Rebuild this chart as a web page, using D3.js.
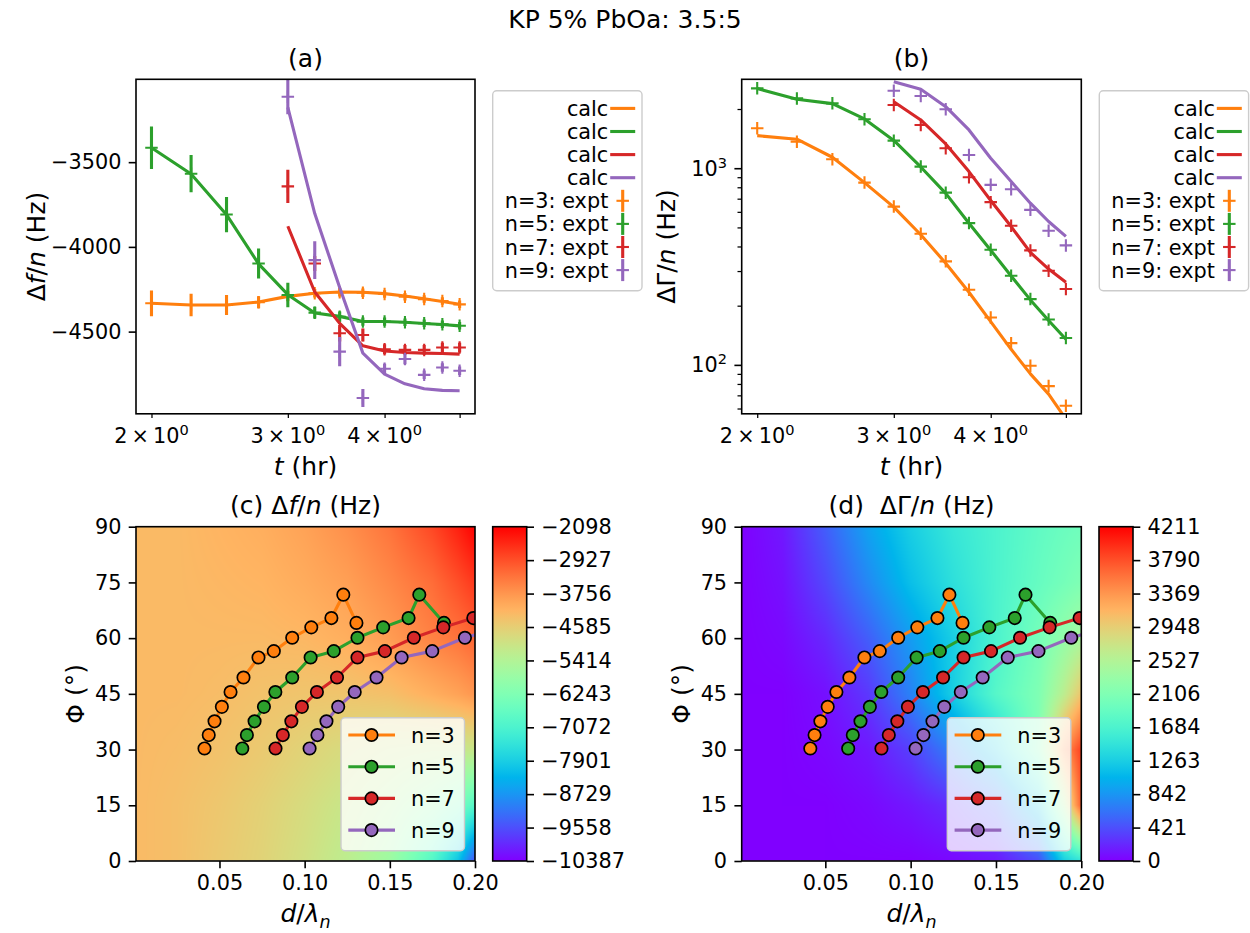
<!DOCTYPE html>
<html>
<head>
<meta charset="utf-8">
<script src="https://cdn.jsdelivr.net/npm/d3@7"></script>
<style>
  body { margin: 0; background: #fff; }
  text { font-family: "DejaVu Sans", sans-serif; fill: #000; }
</style>
</head>
<body>
<svg id="fig" width="1250" height="933"></svg>
<script>
// ---------- data ----------
const times = [2, 2.25, 2.5, 2.75, 3, 3.25, 3.5, 3.75, 4, 4.25, 4.5, 4.75, 5];
const timesLate = [3, 3.25, 3.5, 3.75, 4, 4.25, 4.5, 4.75, 5];
const harmonics = [3, 5, 7, 9];
const colors = ["#ff7f0e", "#2ca02c", "#d62728", "#9467bd"];

// (a) delta f / n, Hz
const dfCalc3 = [-4333, -4343, -4343, -4325, -4292, -4274, -4266, -4268, -4276, -4290, -4306, -4322, -4339];
const dfExpt3 = [-4333, -4343, -4343, -4327, -4290, -4274, -4268, -4270, -4278, -4294, -4308, -4319, -4339];
const dfErr3 = [76, 67, 59, 35, 30, 25, 25, 25, 22, 22, 22, 22, 22];
const dfCalc5 = [-3415, -3570, -3810, -4100, -4282, -4390, -4410, -4440, -4440, -4445, -4452, -4458, -4466];
const dfExpt5 = [-3415, -3568, -3809, -4098, -4284, -4388, -4412, -4441, -4441, -4445, -4451, -4457, -4465];
const dfErr5 = [125, 110, 104, 88, 72, 35, 30, 25, 25, 22, 22, 22, 22];
const dfCalc7 = [-3878, -4266, -4451, -4584, -4614, -4623, -4627, -4629, -4633];
const dfExpt7 = [-3643, -4098, -4510, -4520, -4604, -4608, -4608, -4594, -4594];
const dfErr7 = [98, 44, 49, 39, 29, 29, 29, 29, 29];
const dfCalc9 = [-3176, -3803, -4240, -4627, -4751, -4808, -4837, -4847, -4849];
const dfExpt9 = [-3114, -4078, -4618, -4892, -4719, -4662, -4755, -4712, -4731];
const dfErr9 = [103, 112, 86, 53, 30, 30, 25, 25, 25];

// (b) delta Gamma / n, Hz
const dgCalc3 = [1464, 1404, 1137, 845, 634, 459, 329, 234, 166, 120, 90, 71, 53];
const dgExpt3 = [1596, 1365, 1111, 845, 638, 464, 336, 241, 174, 129, 99, 78, 62];
const dgCalc5 = [2540, 2240, 2130, 1780, 1385, 1015, 745, 525, 383, 283, 214, 168, 135];
const dgExpt5 = [2547, 2265, 2137, 1774, 1381, 1019, 751, 526, 385, 284, 216, 170, 137];
const dgCalc7 = [2178, 1759, 1329, 961, 685, 505, 373, 307, 263];
const dgExpt7 = [2096, 1659, 1264, 900, 672, 510, 382, 301, 243];
const dgCalc9 = [2752, 2518, 2055, 1565, 1124, 855, 664, 536, 450];
const dgExpt9 = [2477, 2328, 1993, 1168, 823, 782, 614, 481, 405];

// (c), (d) solution path: phase angle and d/lambda_n
const phiPath = [30.3, 33.9, 37.6, 41.5, 45.5, 49.4, 54.8, 56.5, 60.1, 62.9, 65.4, 71.7, 64.1];
const dlam3 = [0.0412, 0.0437, 0.0471, 0.0514, 0.0565, 0.0641, 0.0729, 0.0819, 0.0927, 0.1039, 0.1157, 0.1227, 0.1304];
const dlam5 = [0.0634, 0.0661, 0.0706, 0.0761, 0.0828, 0.0927, 0.1035, 0.1171, 0.1310, 0.1461, 0.1610, 0.1673, 0.1818];
const dlam7 = [0.0829, 0.0872, 0.0922, 0.0984, 0.1072, 0.1190, 0.1310, 0.1471, 0.1641, 0.1814, 0.1990, 0.2140, 0.2320];
const dlam9 = [0.1029, 0.1075, 0.1128, 0.1197, 0.1294, 0.1422, 0.1569, 0.1749, 0.1941, 0.2150, 0.2360, 0.2520, 0.2750];

// background maps (rows: phi = 0 .. 90)
const gridD = [0, 0.025, 0.05, 0.075, 0.1, 0.125, 0.15, 0.175, 0.19, 0.2];
const gridPhi = [0, 15, 30, 45, 60, 75, 90];
const dfMap = [
  [-4253, -4336, -4502, -4668, -4916, -5248, -5745, -6906, -8066, -9558],
  [-4253, -4336, -4460, -4626, -4833, -5082, -5414, -5911, -6408, -6906],
  [-4253, -4295, -4377, -4502, -4668, -4833, -4999, -5082, -5082, -5082],
  [-4253, -4253, -4295, -4377, -4419, -4419, -4336, -4087, -3922, -3756],
  [-4253, -4253, -4253, -4253, -4212, -4087, -3839, -3507, -3341, -3176],
  [-4253, -4253, -4212, -4170, -4046, -3880, -3590, -3258, -2927, -2678],
  [-4253, -4253, -4170, -4087, -3922, -3673, -3341, -2844, -2430, -2098]
];
const dgMap = [
  [0, 0, 0, 0, 0, 42, 126, 421, 1263, 1474],
  [0, 0, 0, 42, 126, 253, 505, 1263, 2527, 3706],
  [0, 0, 42, 126, 337, 716, 1263, 2106, 3369, 3874],
  [0, 0, 84, 295, 716, 1263, 1769, 2106, 2611, 3032],
  [0, 42, 211, 505, 884, 1263, 1684, 2021, 2274, 2442],
  [0, 84, 379, 758, 1137, 1432, 1684, 1895, 2021, 2106],
  [0, 126, 505, 926, 1263, 1516, 1684, 1853, 1937, 1979]
];
const dfTicks = [-2098, -2927, -3756, -4585, -5414, -6243, -7072, -7901, -8729, -9558, -10387];
const dgTicks = [4211, 3790, 3369, 2948, 2527, 2106, 1684, 1263, 842, 421, 0];

// ---------- layout ----------
const FS = 20.8;   // tick / legend text
const LS = 25;     // axis labels and titles
const svg = d3.select("#fig");
const A = {x0: 136, x1: 475, y0: 79.3, y1: 413.8};
const B = {x0: 741.7, x1: 1081.3, y0: 79.3, y1: 413.8};
const C = {x0: 136, x1: 475, y0: 526.7, y1: 861};
const D = {x0: 741.7, x1: 1081.3, y0: 526.7, y1: 861};
const CBC = {x0: 492.7, x1: 526.7, y0: 526.7, y1: 861};
const CBD = {x0: 1099, x1: 1133, y0: 526.7, y1: 861};

function rainbow(t) {
  t = Math.max(0, Math.min(1, t));
  const r = Math.min(1, Math.abs(2 * t - 0.5));
  const g = Math.max(0, Math.sin(Math.PI * t));
  const b = Math.max(0, Math.cos(Math.PI * t / 2));
  return [Math.round(r * 255), Math.round(g * 255), Math.round(b * 255)];
}

const defs = svg.append("defs");
function clipFor(id, p) {
  defs.append("clipPath").attr("id", id).append("rect")
    .attr("x", p.x0).attr("y", p.y0).attr("width", p.x1 - p.x0).attr("height", p.y1 - p.y0);
  return "url(#" + id + ")";
}

function frame(p) {
  svg.append("rect").attr("x", p.x0).attr("y", p.y0)
    .attr("width", p.x1 - p.x0).attr("height", p.y1 - p.y0)
    .attr("fill", "none").attr("stroke", "#000").attr("stroke-width", 1.6);
}

function styleAxis(g) {
  g.attr("font-size", FS).attr("font-family", "DejaVu Sans");
  g.select(".domain").remove();
  g.selectAll(".tick line").attr("stroke", "#000").attr("stroke-width", 1.6);
  g.selectAll(".tick text").attr("fill", "#000");
}

function title(x, y, parts, size) {
  const fs = size || LS;
  const t = svg.append("text").attr("x", x).attr("y", y)
    .attr("text-anchor", "middle").attr("font-size", fs);
  parts.forEach(p => {
    const s = t.append("tspan").text(p[0]);
    if (p[1] === "i") s.attr("font-style", "italic");
    if (p[1] === "sub") s.attr("font-style", "italic").attr("font-size", fs * 0.7).attr("dy", 6);
  });
  return t;
}

function ylabel(x, y, parts) {
  const t = svg.append("text").attr("transform", `translate(${x},${y}) rotate(-90)`)
    .attr("text-anchor", "middle").attr("font-size", LS);
  parts.forEach(p => {
    const s = t.append("tspan").text(p[0]);
    if (p[1] === "i") s.attr("font-style", "italic");
  });
}

// ---------- suptitle ----------
svg.append("text").attr("x", 625).attr("y", 28).attr("text-anchor", "middle")
  .attr("font-size", 25).text("KP 5% PbOa: 3.5:5");

// ---------- time axes ----------
function timeAxis(p) {
  const x = d3.scaleLog().domain([1.91, 5.234]).range([p.x0, p.x1]);
  const g = svg.append("g").attr("transform", `translate(0,${p.y1})`)
    .call(d3.axisBottom(x).tickValues([2, 3, 4, 5]).tickSize(4.2).tickFormat(""));
  styleAxis(g);
  g.selectAll(".tick line").attr("stroke-width", 1.25);
  [2, 3, 4].forEach(v => {
    const t = svg.append("text").attr("x", x(v)).attr("y", p.y1 + 29.5)
      .attr("text-anchor", "middle").attr("font-size", FS);
    t.append("tspan").text(v + "\u2009×\u200910");
    t.append("tspan").text("0").attr("font-size", FS * 0.7).attr("dy", -8);
  });
  title((p.x0 + p.x1) / 2, p.y1 + 61, [["t", "i"], [" (hr)"]]);
  return x;
}

function drawSeries(g, x, y, ts, calc, expt, err, color) {
  g.append("path").datum(ts.map((t, i) => [t, calc[i]]))
    .attr("fill", "none").attr("stroke", color).attr("stroke-width", 3.1)
    .attr("stroke-linejoin", "round")
    .attr("d", d3.line().x(d => x(d[0])).y(d => y(d[1])));
  const pts = g.append("g").selectAll("g").data(ts.map((t, i) => ({t, v: expt[i], e: err ? err[i] : 0})))
    .join("g");
  pts.filter(d => d.e > 0).append("line")
    .attr("x1", d => x(d.t)).attr("x2", d => x(d.t))
    .attr("y1", d => y(d.v - d.e)).attr("y2", d => y(d.v + d.e))
    .attr("stroke", color).attr("stroke-width", 3.1);
  pts.append("path")
    .attr("d", d => `M${x(d.t) - 6.25},${y(d.v)}h12.5M${x(d.t)},${y(d.v) - 6.25}v12.5`)
    .attr("stroke", color).attr("stroke-width", 2.1).attr("fill", "none");
}

function timeLegend(bx) {
  const by = 90.7;
  svg.append("rect").attr("x", bx).attr("y", by).attr("width", 149.3).attr("height", 200)
    .attr("rx", 4).attr("fill", "#fff").attr("fill-opacity", 0.8)
    .attr("stroke", "#cccccc").attr("stroke-width", 1.4);
  harmonics.forEach((n, i) => {
    const cy = 108.4 + i * 23.1;
    svg.append("text").attr("x", bx + 115.6).attr("y", cy + 7.5).attr("text-anchor", "end")
      .attr("font-size", FS).text("calc");
    svg.append("line").attr("x1", bx + 117.5).attr("x2", bx + 142.5).attr("y1", cy).attr("y2", cy)
      .attr("stroke", colors[i]).attr("stroke-width", 3.1);
  });
  harmonics.forEach((n, i) => {
    const cy = 108.4 + (i + 4) * 23.1;
    svg.append("text").attr("x", bx + 115.6).attr("y", cy + 7.5).attr("text-anchor", "end")
      .attr("font-size", FS).text(`n=${n}: expt`);
    const cx = bx + 130;
    svg.append("line").attr("x1", cx).attr("x2", cx).attr("y1", cy - 11).attr("y2", cy + 11)
      .attr("stroke", colors[i]).attr("stroke-width", 3.1);
    svg.append("line").attr("x1", cx - 6.25).attr("x2", cx + 6.25).attr("y1", cy).attr("y2", cy)
      .attr("stroke", colors[i]).attr("stroke-width", 2.1);
  });
}

// ---------- panel (a) ----------
{
  const x = timeAxis(A);
  const y = d3.scaleLinear().domain([-4985, -3011]).range([A.y1, A.y0]);
  const g = svg.append("g").attr("clip-path", clipFor("clipA", A));
  drawSeries(g, x, y, times, dfCalc3, dfExpt3, dfErr3, colors[0]);
  drawSeries(g, x, y, times, dfCalc5, dfExpt5, dfErr5, colors[1]);
  drawSeries(g, x, y, timesLate, dfCalc7, dfExpt7, dfErr7, colors[2]);
  drawSeries(g, x, y, timesLate, dfCalc9, dfExpt9, dfErr9, colors[3]);
  const ga = svg.append("g").attr("transform", `translate(${A.x0},0)`)
    .call(d3.axisLeft(y).tickValues([-3500, -4000, -4500]).tickFormat(d3.format("d"))
      .tickSize(7.3).tickPadding(7.3));
  styleAxis(ga);
  frame(A);
  title(305.5, 66.8, [["(a)"]], 25);
  ylabel(45, 246.5, [["Δ"], ["f", "i"], ["/"], ["n", "i"], [" (Hz)"]]);
  timeLegend(492.7);
}

// ---------- panel (b) ----------
{
  const x = timeAxis(B);
  const y = d3.scaleLog().domain([56.4, 2832]).range([B.y1, B.y0]);
  const g = svg.append("g").attr("clip-path", clipFor("clipB", B));
  drawSeries(g, x, y, times, dgCalc3, dgExpt3, null, colors[0]);
  drawSeries(g, x, y, times, dgCalc5, dgExpt5, null, colors[1]);
  drawSeries(g, x, y, timesLate, dgCalc7, dgExpt7, null, colors[2]);
  drawSeries(g, x, y, timesLate, dgCalc9, dgExpt9, null, colors[3]);
  const minor = [60, 70, 80, 90, 200, 300, 400, 500, 600, 700, 800, 900, 2000];
  const gm = svg.append("g").attr("transform", `translate(${B.x0},0)`)
    .call(d3.axisLeft(y).tickValues(minor).tickSize(4.2).tickFormat(""));
  styleAxis(gm);
  gm.selectAll(".tick line").attr("stroke-width", 1.25);
  const gM = svg.append("g").attr("transform", `translate(${B.x0},0)`)
    .call(d3.axisLeft(y).tickValues([100, 1000]).tickSize(7.3).tickFormat(""));
  styleAxis(gM);
  [[100, "2"], [1000, "3"]].forEach(([v, e]) => {
    const t = svg.append("text").attr("x", B.x0 - 14.6).attr("y", y(v) + 7.5)
      .attr("text-anchor", "end").attr("font-size", FS);
    t.append("tspan").text("10");
    t.append("tspan").text(e).attr("font-size", FS * 0.7).attr("dy", -8);
  });
  frame(B);
  title(911.5, 66.8, [["(b)"]], 25);
  ylabel(675, 246.5, [["ΔΓ/"], ["n", "i"], [" (Hz)"]]);
  timeLegend(1099.3);
}

// ---------- maps ----------
function mapPanel(p, cb, grid, ticks, clipId, titleParts, legendX) {
  const x = d3.scaleLinear().domain([0.001, 0.2]).range([p.x0, p.x1]);
  const y = d3.scaleLinear().domain([0, 90]).range([p.y1, p.y0]);
  const vmin = d3.min(ticks), vmax = d3.max(ticks);
  const w = Math.round(p.x1 - p.x0), h = Math.round(p.y1 - p.y0);
  const canvas = document.createElement("canvas");
  canvas.width = w; canvas.height = h;
  const ctx = canvas.getContext("2d");
  const img = ctx.createImageData(w, h);
  for (let py = 0; py < h; py++) {
    const phi = y.invert(p.y0 + py + 0.5);
    let j = Math.min(gridPhi.length - 2, Math.max(0, d3.bisectRight(gridPhi, phi) - 1));
    const fy = (phi - gridPhi[j]) / (gridPhi[j + 1] - gridPhi[j]);
    for (let px = 0; px < w; px++) {
      const d = x.invert(p.x0 + px + 0.5);
      let i = Math.min(gridD.length - 2, Math.max(0, d3.bisectRight(gridD, d) - 1));
      const fx = (d - gridD[i]) / (gridD[i + 1] - gridD[i]);
      const v = (grid[j][i] * (1 - fx) + grid[j][i + 1] * fx) * (1 - fy)
              + (grid[j + 1][i] * (1 - fx) + grid[j + 1][i + 1] * fx) * fy;
      const c = rainbow((v - vmin) / (vmax - vmin));
      const k = (py * w + px) * 4;
      img.data[k] = c[0]; img.data[k + 1] = c[1]; img.data[k + 2] = c[2]; img.data[k + 3] = 255;
    }
  }
  ctx.putImageData(img, 0, 0);
  svg.append("image").attr("x", p.x0).attr("y", p.y0).attr("width", w).attr("height", h)
    .attr("preserveAspectRatio", "none").attr("href", canvas.toDataURL());

  const g = svg.append("g").attr("clip-path", clipFor(clipId, p));
  [dlam3, dlam5, dlam7, dlam9].forEach((dl, k) => {
    const pts = dl.map((d, i) => [d, phiPath[i]]);
    g.append("path").datum(pts).attr("fill", "none").attr("stroke", colors[k])
      .attr("stroke-width", 3.1).attr("stroke-linejoin", "round")
      .attr("d", d3.line().x(d => x(d[0])).y(d => y(d[1])));
    g.append("g").selectAll("circle").data(pts).join("circle")
      .attr("cx", d => x(d[0])).attr("cy", d => y(d[1])).attr("r", 6.2)
      .attr("fill", colors[k]).attr("stroke", "#000").attr("stroke-width", 1.7);
  });

  const gx = svg.append("g").attr("transform", `translate(0,${p.y1})`)
    .call(d3.axisBottom(x).tickValues([0.05, 0.1, 0.15, 0.2]).tickFormat(d3.format(".2f"))
      .tickSize(7.3).tickPadding(7.3));
  styleAxis(gx);
  const gy = svg.append("g").attr("transform", `translate(${p.x0},0)`)
    .call(d3.axisLeft(y).tickValues([0, 15, 30, 45, 60, 75, 90]).tickSize(7.3).tickPadding(7.3));
  styleAxis(gy);
  frame(p);
  title((p.x0 + p.x1) / 2, p.y0 - 12.5, titleParts, 25);
  title((p.x0 + p.x1) / 2, p.y1 + 61, [["d", "i"], ["/"], ["λ", "i"], ["n", "sub"]]);
  ylabel(p.x0 - 52, (p.y0 + p.y1) / 2, [["Φ (°)"]]);

  // legend
  const by = 717.7;
  svg.append("rect").attr("x", legendX).attr("y", by).attr("width", 123.5).attr("height", 133)
    .attr("rx", 4).attr("fill", "#fff").attr("fill-opacity", 0.8)
    .attr("stroke", "#cccccc").attr("stroke-width", 1.4);
  harmonics.forEach((n, i) => {
    const cy = 735 + i * 31.7;
    svg.append("line").attr("x1", legendX + 7.3).attr("x2", legendX + 54).attr("y1", cy).attr("y2", cy)
      .attr("stroke", colors[i]).attr("stroke-width", 3.1);
    svg.append("circle").attr("cx", legendX + 30.5).attr("cy", cy).attr("r", 6.2)
      .attr("fill", colors[i]).attr("stroke", "#000").attr("stroke-width", 1.7);
    svg.append("text").attr("x", legendX + 70).attr("y", cy + 7.5).attr("font-size", FS)
      .text(`n=${n}`);
  });

  // colorbar
  const gid = clipId + "grad";
  const grad = defs.append("linearGradient").attr("id", gid)
    .attr("x1", 0).attr("y1", 1).attr("x2", 0).attr("y2", 0);
  d3.range(0, 1.0001, 0.025).forEach(t => {
    const c = rainbow(t);
    grad.append("stop").attr("offset", t).attr("stop-color", `rgb(${c[0]},${c[1]},${c[2]})`);
  });
  svg.append("rect").attr("x", cb.x0).attr("y", cb.y0).attr("width", cb.x1 - cb.x0)
    .attr("height", cb.y1 - cb.y0).attr("fill", `url(#${gid})`);
  const cs = d3.scaleLinear().domain([vmin, vmax]).range([cb.y1, cb.y0]);
  const gc = svg.append("g").attr("transform", `translate(${cb.x1},0)`)
    .call(d3.axisRight(cs).tickValues(ticks).tickFormat(d3.format("d")).tickSize(7.3).tickPadding(7.3));
  styleAxis(gc);
  frame(cb);
}

mapPanel(C, CBC, dfMap, dfTicks, "clipC",
  [["(c) Δ"], ["f", "i"], ["/"], ["n", "i"], [" (Hz)"]], 341);
mapPanel(D, CBD, dgMap, dgTicks, "clipD",
  [["(d)\u00a0 ΔΓ/"], ["n", "i"], [" (Hz)"]], 947.3);
</script>
</body>
</html>
